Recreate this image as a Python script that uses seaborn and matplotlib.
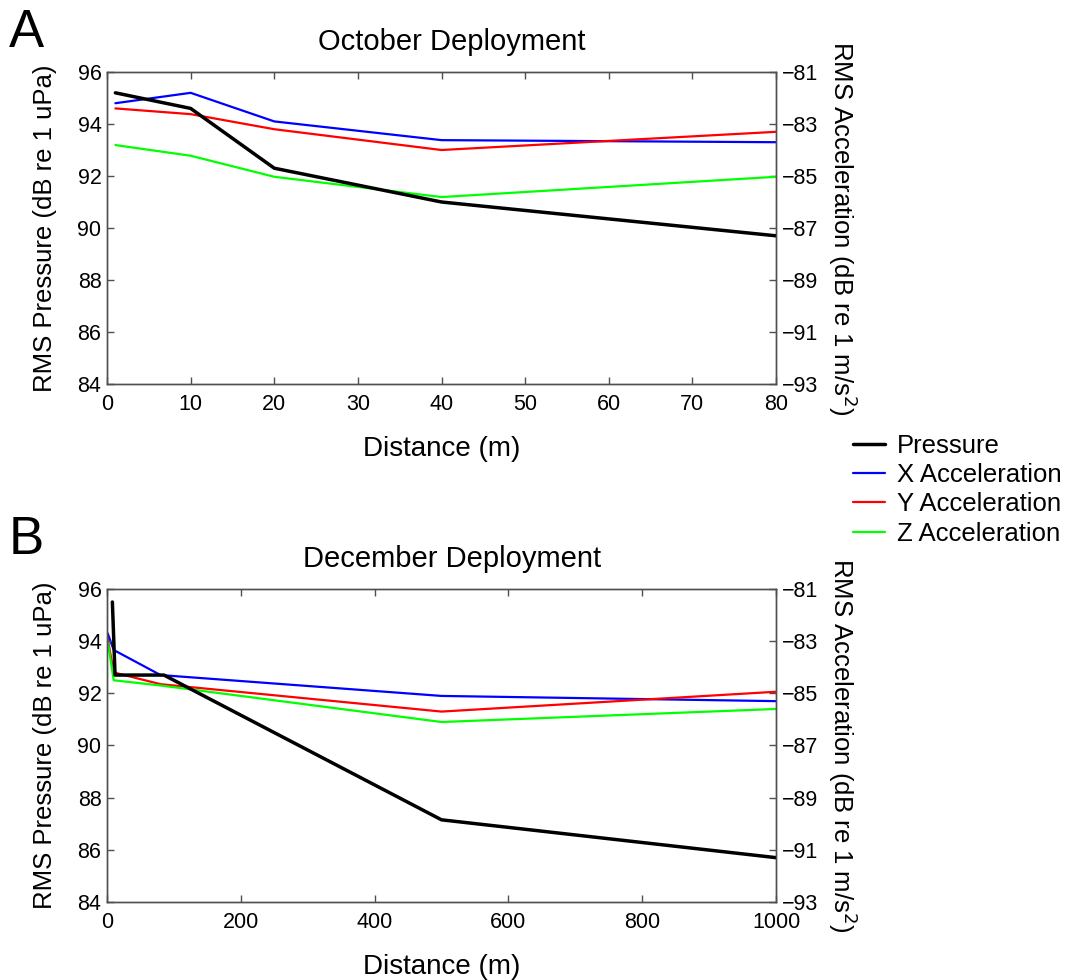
import matplotlib
matplotlib.use("Agg")
import matplotlib.pyplot as plt
import seaborn as sns
import pandas as pd
from matplotlib.lines import Line2D

# October deployment (distance in m)
oct_dist = [1, 10, 20, 40, 80]
oct_pressure = [95.2, 94.6, 92.3, 91.0, 89.7]          # dB re 1 uPa
oct_x_acc = [-82.2, -81.8, -82.9, -83.62, -83.7]       # dB re 1 m/s^2
oct_y_acc = [-82.4, -82.62, -83.2, -84.0, -83.3]
oct_z_acc = [-83.81, -84.22, -85.03, -85.81, -85.03]

# December deployment (distance in m)
dec_p_dist = [8, 12, 85, 500, 1000]
dec_pressure = [95.5, 92.7, 92.7, 87.15, 85.7]
dec_a_dist = [1, 10, 80, 500, 1000]
dec_x_acc = [-82.7, -83.34, -84.3, -85.1, -85.3]
dec_y_acc = [-82.9, -84.2, -84.65, -85.7, -84.94]
dec_z_acc = [-83.0, -84.5, -84.7, -86.1, -85.6]

series_names = ["Pressure", "X Acceleration", "Y Acceleration", "Z Acceleration"]
series_colors = ["#000000", "#0000ff", "#ff0000", "#00ff00"]

left_ticks = [84, 86, 88, 90, 92, 94, 96]
right_ticks = [-93, -91, -89, -87, -85, -83, -81]

sns.set_theme(style="white")
plt.rcParams["font.family"] = ["Liberation Sans", "DejaVu Sans"]
plt.rcParams["axes.unicode_minus"] = True
for key in ("text.color", "axes.labelcolor", "xtick.color", "ytick.color"):
    plt.rcParams[key] = "black"

SPINE = "#505050"
TICK_FS = 15.5
LABEL_FS = 18.5
TITLE_FS = 21
XLABEL_FS = 20

fig = plt.figure(figsize=(10.67, 9.8), dpi=100)
ax_top = fig.add_axes([0.1003, 0.6082, 0.627, 0.3183])
ax_bot = fig.add_axes([0.1003, 0.0796, 0.627, 0.3194])


def draw_panel(ax, p_dist, pressure, a_dist, xa, ya, za, xmax, xticks, title):
    tw = ax.twinx()
    accel = pd.DataFrame({"dist": a_dist, "x": xa, "y": ya, "z": za})
    for col, color in zip(["x", "y", "z"], series_colors[1:]):
        sns.lineplot(data=accel, x="dist", y=col, ax=tw, color=color,
                     linewidth=1.6, estimator=None, sort=False)
    press = pd.DataFrame({"dist": p_dist, "p": pressure})
    sns.lineplot(data=press, x="dist", y="p", ax=ax, color=series_colors[0],
                 linewidth=2.5, estimator=None, sort=False)
    # pressure line drawn above the acceleration lines
    ax.set_zorder(tw.get_zorder() + 1)
    ax.patch.set_visible(False)

    ax.set_xlim(0, xmax)
    ax.set_xticks(xticks)
    ax.set_ylim(84, 96)
    ax.set_yticks(left_ticks)
    tw.set_ylim(-93, -81)
    tw.set_yticks(right_ticks)

    ax.set_xlabel("Distance (m)", fontsize=XLABEL_FS, labelpad=15)
    ax.set_ylabel("RMS Pressure (dB re 1 uPa)", fontsize=LABEL_FS, labelpad=15)
    tw.set_ylabel("RMS Acceleration (dB re 1 m/s$^2$)", fontsize=LABEL_FS,
                  rotation=-90, labelpad=30)
    ax.set_title(title, fontsize=TITLE_FS, pad=16, x=0.516)

    ax.tick_params(axis="both", direction="in", length=5, width=1,
                   color=SPINE, labelsize=TICK_FS, top=True, bottom=True,
                   left=True, right=False, pad=4)
    ax.tick_params(axis="x", pad=7.5)
    tw.tick_params(axis="y", direction="in", length=5, width=1,
                   color=SPINE, labelsize=TICK_FS, right=True, left=False, pad=4)
    tw.tick_params(axis="x", top=False, bottom=False)
    for a in (ax, tw):
        for s in a.spines.values():
            s.set_color(SPINE)
            s.set_linewidth(1.0)
    return tw


draw_panel(ax_top, oct_dist, oct_pressure, oct_dist, oct_x_acc, oct_y_acc,
           oct_z_acc, 80, list(range(0, 81, 10)), "October Deployment")
draw_panel(ax_bot, dec_p_dist, dec_pressure, dec_a_dist, dec_x_acc, dec_y_acc,
           dec_z_acc, 1000, list(range(0, 1001, 200)), "December Deployment")

# panel letters
fig.text(0.008, 0.941, "A", fontsize=38, va="bottom", ha="left")
fig.text(0.008, 0.4235, "B", fontsize=38, va="bottom", ha="left")

handles = [Line2D([0], [0], color=c, linewidth=2.5 if i == 0 else 1.6)
           for i, c in enumerate(series_colors)]
fig.legend(handles, series_names, loc="upper left",
           bbox_to_anchor=(0.7994, 0.557), frameon=False, fontsize=18.5,
           borderpad=0, borderaxespad=0, handlelength=1.25,
           handletextpad=0.47, labelspacing=0.2)

fig.savefig("out.png", dpi=100)
